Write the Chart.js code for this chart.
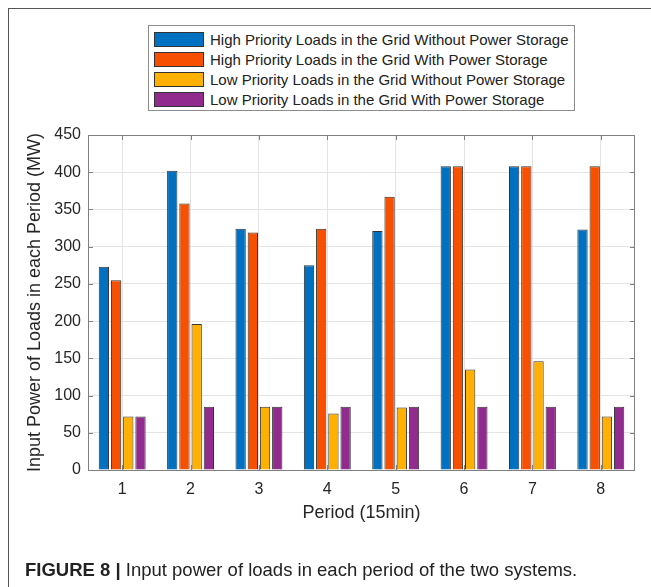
<!DOCTYPE html>
<html><head><meta charset="utf-8">
<script src="https://cdn.jsdelivr.net/npm/chart.js@4/dist/chart.umd.min.js"></script>
<style>
html,body{margin:0;padding:0;background:#fff;}
body{width:651px;height:587px;position:relative;overflow:hidden;font-family:"Liberation Sans",Arial,Helvetica,sans-serif;}
#frame{position:absolute;left:8px;top:8px;width:700px;height:700px;border-left:1px solid #555;border-top:1px solid #555;}
#wrap{position:absolute;left:0;top:0;width:651px;height:587px;}
#legend{position:absolute;left:148px;top:25px;width:427px;height:86px;border:1px solid #8c8c8c;box-sizing:border-box;background:#fff;}
.row{position:absolute;left:5px;height:20px;display:flex;align-items:center;white-space:nowrap;font-size:15px;color:#222;}
.sw{width:48px;height:13px;border:1px solid #333;margin-right:6px;}
#caption{position:absolute;left:25px;top:559px;font-family:"Liberation Sans Narrow","Liberation Sans",Arial,sans-serif;font-size:18.5px;color:#222;white-space:nowrap;}
#caption b{font-weight:bold;}
</style>
</head><body>
<div id="frame"></div>
<div id="wrap"><canvas id="c" width="651" height="587"></canvas></div>
<div id="legend"></div>
<div id="caption"><b>FIGURE 8 |</b> Input power of loads in each period of the two systems.</div>
<script>
const periods = ['1','2','3','4','5','6','7','8'];
const highWithoutStorage = [273, 402, 324, 275, 321, 408, 408, 323];
const highWithStorage    = [255, 358, 319, 324, 367, 408, 408, 408];
const lowWithoutStorage  = [72, 196, 85, 76, 84, 135, 146, 72];
const lowWithStorage     = [72, 85, 85, 85, 85, 85, 85, 85];
const seriesLabels = [
  'High Priority Loads in the Grid Without Power Storage',
  'High Priority Loads in the Grid With Power Storage',
  'Low Priority Loads in the Grid Without Power Storage',
  'Low Priority Loads in the Grid With Power Storage'
];
const seriesColors = ['#0070C0', '#F75000', '#FFB000', '#922B8E'];
const yMin = 0, yMax = 450, yStep = 50;
const yTitle = 'Input Power of Loads in each Period (MW)';
const xTitle = 'Period (15min)';

const seriesValues = [highWithoutStorage, highWithStorage, lowWithoutStorage, lowWithStorage];

// legend (HTML)
const lg = document.getElementById('legend');
seriesLabels.forEach((lab, i) => {
  const r = document.createElement('div');
  r.className = 'row';
  r.style.top = (3 + i * 20) + 'px';
  const s = document.createElement('div');
  s.className = 'sw';
  s.style.background = seriesColors[i];
  r.appendChild(s);
  const t = document.createElement('span');
  t.textContent = lab;
  r.appendChild(t);
  lg.appendChild(r);
});

const axisColor = '#808080';
const boxAndTicks = {
  id: 'boxAndTicks',
  afterDatasetsDraw(chart) {
    const {ctx, chartArea: {left, right, top, bottom}, scales: {x, y}} = chart;
    ctx.save();
    ctx.strokeStyle = axisColor;
    ctx.lineWidth = 1;
    const L = 5;
    ctx.beginPath();
    x.ticks.forEach((t, i) => {
      const px = Math.round(x.getPixelForTick(i)) + 0.5;
      ctx.moveTo(px, bottom); ctx.lineTo(px, bottom - L);
      ctx.moveTo(px, top); ctx.lineTo(px, top + L);
    });
    y.ticks.forEach((t, i) => {
      const py = Math.round(y.getPixelForTick(i)) + 0.5;
      ctx.moveTo(left, py); ctx.lineTo(left + L, py);
      ctx.moveTo(right, py); ctx.lineTo(right - L, py);
    });
    ctx.stroke();
    ctx.strokeRect(Math.round(left) + 0.5, Math.round(top) + 0.5, Math.round(right - left) - 1, Math.round(bottom - top));
    ctx.restore();
  }
};

new Chart(document.getElementById('c'), {
  type: 'bar',
  data: {
    labels: periods,
    datasets: seriesValues.map((vals, i) => ({
      label: seriesLabels[i],
      data: vals,
      backgroundColor: seriesColors[i],
      borderColor: '#333333',
      borderWidth: 1,
      barPercentage: 0.845,
      categoryPercentage: 0.714
    }))
  },
  options: {
    responsive: false,
    animation: false,
    devicePixelRatio: 1,
    layout: {padding: {top: 135, left: 0, right: 16, bottom: 57}},
    plugins: {legend: {display: false}, tooltip: {enabled: false}},
    scales: {
      x: {
        grid: {offset: false, color: '#e4e4e4', drawTicks: false},
        border: {display: false},
        ticks: {color: '#262626', padding: 10, font: {family: '"Liberation Sans", Arial, sans-serif', size: 16}},
        title: {display: true, text: xTitle, color: '#262626', padding: {top: 0, bottom: 6}, font: {family: '"Liberation Sans", Arial, sans-serif', size: 18}},
        afterFit(s) { s.height = 60; }
      },
      y: {
        min: yMin, max: yMax,
        grid: {color: '#e4e4e4', drawTicks: false},
        border: {display: false},
        ticks: {stepSize: yStep, color: '#262626', padding: 7, font: {family: '"Liberation Sans", Arial, sans-serif', size: 16}},
        title: {display: true, text: yTitle, color: '#262626', padding: {top: 24, bottom: 0}, font: {family: '"Liberation Sans", Arial, sans-serif', size: 18}},
        afterFit(s) { s.width = 88; }
      }
    }
  },
  plugins: [boxAndTicks]
});
</script>
</body></html>
